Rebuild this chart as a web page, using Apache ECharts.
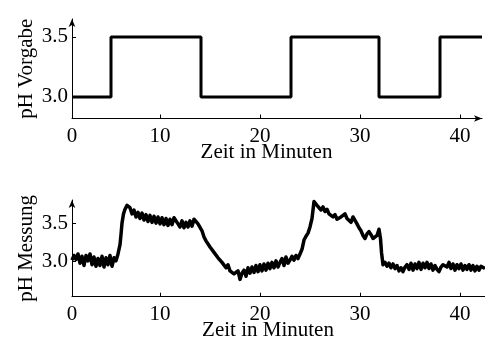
<!DOCTYPE html>
<html lang="de">
<head>
    <meta charset="UTF-8">
    <title>pH Vorgabe und Messung</title>
    <script src="https://cdn.jsdelivr.net/npm/echarts@6/dist/echarts.min.js"></script>
    <style>
        html, body { margin: 0; padding: 0; background: #fff; }
        #chart { width: 485px; height: 338px; }
    </style>
</head>
<body>
<div id="chart"></div>
<script>
    // x-Achse beginnt nicht ganz bei 0 (Beschriftung "0" sitzt am Ursprung)
    var xStart = 1.2;
    var xTicks = [10, 20, 30, 40];
    var yTicks = [3.0, 3.5];

    // Sollwert: Zeitpunkte der Spruenge und Werte
    var stepTimes  = [1.2, 5.1, 14.1, 23.1, 31.9, 38.0, 42.2];
    var stepValues = [3.0, 3.5, 3.0, 3.5, 3.0, 3.5, 3.5];

    // Messung
    var measTimes = [
        1.2, 1.4, 1.6, 1.8, 2.0, 2.2, 2.4, 2.6, 2.8, 3.0, 3.2, 3.4, 3.6, 3.8, 4.0, 4.2, 4.4, 4.6, 4.8, 5.0,
        5.2, 5.4, 5.6, 5.8, 6.0, 6.1, 6.2, 6.35, 6.5, 6.7, 6.8, 7.0, 7.2, 7.4, 7.6, 7.8, 8.0, 8.2, 8.4, 8.6,
        8.8, 9.0, 9.2, 9.4, 9.6, 9.8, 10.0, 10.2, 10.4, 10.6, 10.8, 11.0, 11.2, 11.4, 11.6, 11.8, 12.0, 12.2, 12.4, 12.6,
        12.8, 13.0, 13.2, 13.4, 13.6, 13.8, 14.0, 14.2, 14.4, 14.6, 14.8, 15.0, 15.2, 15.4, 15.6, 15.8, 16.0, 16.2, 16.4, 16.6,
        16.8, 17.0, 17.2, 17.4, 17.6, 17.8, 18.0, 18.2, 18.4, 18.6, 18.8, 19.0, 19.2, 19.4, 19.6, 19.8, 20.0, 20.2, 20.4, 20.6,
        20.8, 21.0, 21.2, 21.4, 21.6, 21.8, 22.0, 22.2, 22.4, 22.6, 22.8, 23.0, 23.2, 23.4, 23.6, 23.8, 24.0, 24.2, 24.4, 24.6,
        24.8, 25.0, 25.2, 25.4, 25.5, 25.7, 25.9, 26.1, 26.3, 26.5, 26.7, 26.9, 27.1, 27.3, 27.5, 27.7, 27.9, 28.1, 28.3, 28.5,
        28.7, 28.9, 29.1, 29.3, 29.5, 29.7, 29.9, 30.1, 30.3, 30.5, 30.7, 30.9, 31.1, 31.3, 31.5, 31.7, 31.9, 32.05, 32.15, 32.3,
        32.5, 32.7, 32.9, 33.1, 33.3, 33.5, 33.7, 33.9, 34.1, 34.3, 34.5, 34.7, 34.9, 35.1, 35.3, 35.5, 35.7, 35.9, 36.1, 36.3,
        36.5, 36.7, 36.9, 37.1, 37.3, 37.5, 37.7, 37.9, 38.1, 38.3, 38.5, 38.7, 38.9, 39.1, 39.3, 39.5, 39.7, 39.9, 40.1, 40.3,
        40.5, 40.7, 40.9, 41.1, 41.3, 41.5, 41.7, 41.9, 42.1, 42.5
    ];
    var measValues = [
        3.02, 3.08, 3.03, 3.10, 2.98, 3.07, 2.95, 3.08, 3.01, 3.10, 2.96, 3.06, 2.94, 3.04, 2.95, 3.07, 2.93, 3.05, 2.96, 3.08,
        2.94, 3.05, 3.01, 3.10, 3.22, 3.35, 3.50, 3.62, 3.68, 3.73, 3.75, 3.70, 3.62, 3.67, 3.58, 3.64, 3.56, 3.63, 3.54, 3.61,
        3.52, 3.60, 3.51, 3.59, 3.50, 3.58, 3.49, 3.57, 3.48, 3.56, 3.47, 3.55, 3.48, 3.57, 3.56, 3.49, 3.45, 3.53, 3.44, 3.51,
        3.45, 3.53, 3.46, 3.55, 3.54, 3.49, 3.48, 3.40, 3.32, 3.27, 3.25, 3.19, 3.18, 3.12, 3.13, 3.05, 3.06, 2.99, 3.00, 2.92,
        2.96, 2.88, 2.90, 2.84, 2.86, 2.88, 2.77, 2.85, 2.89, 2.81, 2.92, 2.85, 2.93, 2.86, 2.95, 2.87, 2.96, 2.88, 2.97, 2.89,
        2.98, 2.91, 2.99, 2.92, 3.01, 2.93, 2.99, 3.04, 2.95, 3.06, 2.98, 3.02, 3.07, 3.02, 3.08, 3.04, 3.10, 3.16, 3.28, 3.33,
        3.37, 3.45, 3.56, 3.78, 3.77, 3.73, 3.74, 3.67, 3.71, 3.65, 3.68, 3.62, 3.63, 3.58, 3.61, 3.55, 3.53, 3.58, 3.60, 3.62,
        3.56, 3.55, 3.51, 3.58, 3.56, 3.49, 3.44, 3.40, 3.34, 3.30, 3.36, 3.39, 3.35, 3.30, 3.28, 3.34, 3.42, 3.30, 3.12, 2.96,
        2.99, 2.94, 2.98, 2.92, 2.97, 2.91, 2.95, 2.88, 2.92, 2.87, 2.93, 2.96, 2.90, 2.98, 2.89, 2.97, 2.91, 2.99, 2.90, 2.98,
        2.92, 2.99, 2.91, 2.97, 2.89, 2.95, 2.90, 2.87, 2.93, 2.96, 2.98, 2.93, 2.99, 2.91, 2.97, 2.89, 2.96, 2.91, 2.97, 2.89,
        2.95, 2.90, 2.96, 2.89, 2.95, 2.88, 2.94, 2.89, 2.94, 2.91
    ];

    var font = 'Liberation Serif';

    function pairs(xs, ys) {
        var out = [];
        for (var i = 0; i < xs.length; i++) out.push([xs[i], ys[i]]);
        return out;
    }

    function xAxisFor(gridIndex, max, arrow) {
        return {
            type: 'value', gridIndex: gridIndex, min: xStart, max: max,
            name: 'Zeit in Minuten', nameLocation: 'middle', nameGap: 23, nameMoveOverlap: false,
            nameTextStyle: { fontFamily: font, fontSize: 21, color: '#000', padding: [0, 21, 0, 0] },
            axisLine: {
                show: true, onZero: false,
                lineStyle: { color: '#000', width: 1 },
                symbol: arrow ? ['none', 'arrow'] : ['none', 'none'],
                symbolSize: [5, 8]
            },
            axisTick: { show: true, inside: true, length: 4, customValues: xTicks, lineStyle: { color: '#000' } },
            axisLabel: {
                fontFamily: font, fontSize: 21, color: '#000', margin: 7,
                customValues: [xStart].concat(xTicks),
                formatter: function (v) { return v === xStart ? '0' : String(v); }
            },
            splitLine: { show: false }
        };
    }

    function yAxisFor(gridIndex, min, max, name) {
        return {
            type: 'value', gridIndex: gridIndex, min: min, max: max,
            name: name, nameLocation: 'middle', nameGap: 35, nameMoveOverlap: false,
            nameTextStyle: { fontFamily: font, fontSize: 21, color: '#000' },
            axisLine: {
                show: true, onZero: false,
                lineStyle: { color: '#000', width: 1 },
                symbol: ['none', 'arrow'], symbolSize: [5, 8]
            },
            axisTick: { show: true, inside: true, length: 4, customValues: yTicks, lineStyle: { color: '#000' } },
            axisLabel: {
                fontFamily: font, fontSize: 21, color: '#000', margin: 4,
                customValues: yTicks,
                formatter: function (v) { return v.toFixed(1); }
            },
            splitLine: { show: false }
        };
    }

    var chart = echarts.init(document.getElementById('chart'));
    chart.setOption({
        animation: false,
        backgroundColor: '#fff',
        grid: [
            { left: 72, right: 3, top: 19, bottom: 219.5, outerBoundsMode: 'none' },
            { left: 72, right: 0, top: 200, bottom: 41.3, outerBoundsMode: 'none' }
        ],
        xAxis: [xAxisFor(0, 42.2, true), xAxisFor(1, 42.5, false)],
        yAxis: [
            yAxisFor(0, 2.82, 3.65, 'pH Vorgabe'),
            yAxisFor(1, 2.545, 3.80, 'pH Messung')
        ],
        series: [
            {
                type: 'line', xAxisIndex: 0, yAxisIndex: 0, step: 'end',
                data: pairs(stepTimes, stepValues), showSymbol: false, clip: false,
                lineStyle: { color: '#000', width: 3 }
            },
            {
                type: 'line', xAxisIndex: 1, yAxisIndex: 1,
                data: pairs(measTimes, measValues), showSymbol: false,
                lineStyle: { color: '#000', width: 3.5, join: 'round' }
            }
        ]
    });
</script>
</body>
</html>
